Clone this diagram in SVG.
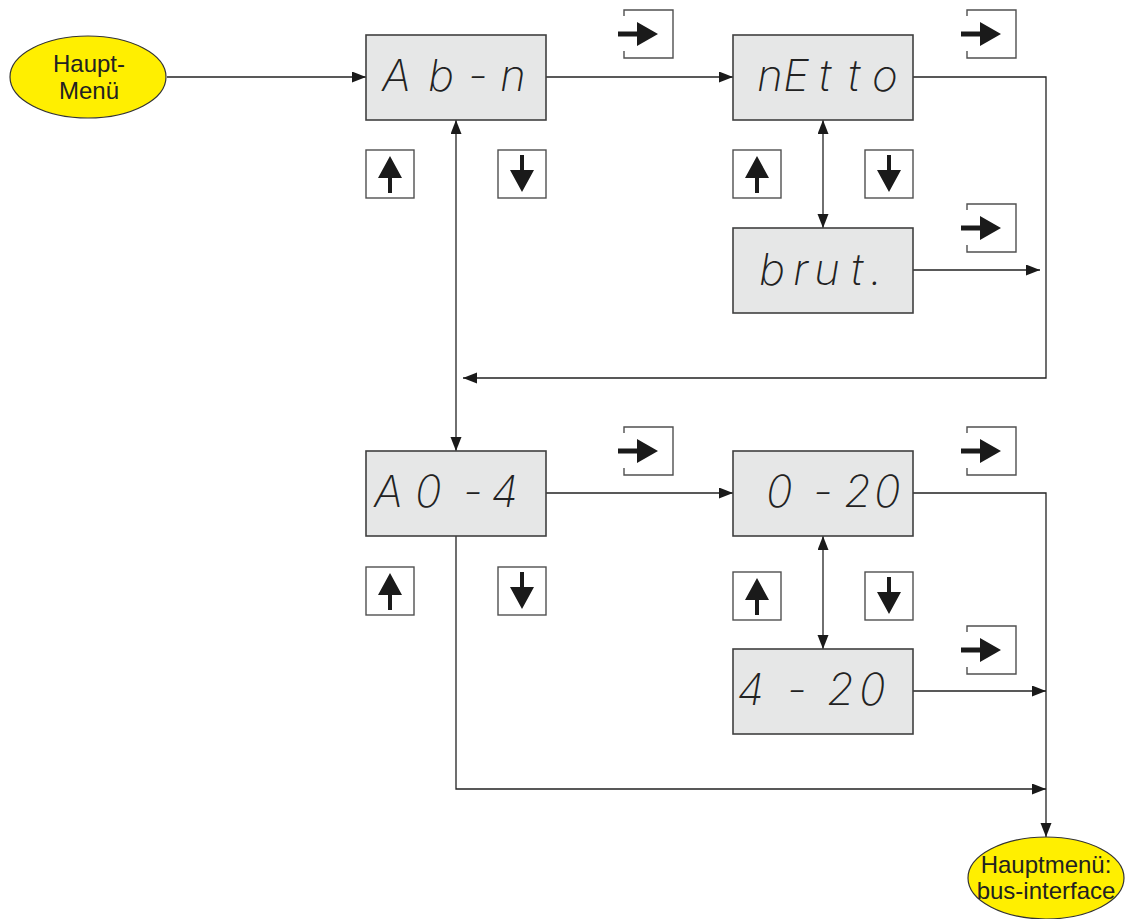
<svg xmlns="http://www.w3.org/2000/svg" width="1125" height="919" viewBox="0 0 1125 919">
<style>
.box{fill:#e6e7e7;stroke:#404040;stroke-width:1.6}
.key{fill:#fff;stroke:#505050;stroke-width:1.4}
.ell{fill:#ffef00;stroke:#333;stroke-width:1.2}
.lbl{font-family:"Liberation Sans",Arial,sans-serif;font-size:24px;fill:#222;text-anchor:middle}
.seg{font-family:Inter,"DejaVu Sans",sans-serif;font-style:italic;font-weight:200;font-size:44px;fill:#222}
.con{fill:none;stroke:#222;stroke-width:1.3}
.sym{fill:#1a1a1a}
</style>
<defs>
<marker id="ah" markerUnits="userSpaceOnUse" markerWidth="16" markerHeight="14" refX="14" refY="5.5" orient="auto-start-reverse">
<path d="M0,0 L14,5.5 L0,11 z" fill="#1a1a1a"/>
</marker>
<g id="up"><rect class="key" x="0" y="0" width="48" height="48"/><path class="sym" d="M24,6 L36,28 L26,28 L26,43 L22,43 L22,28 L12,28 z"/></g>
<g id="down"><rect class="key" x="0" y="0" width="48" height="48"/><path class="sym" d="M24,42 L36,20 L26,20 L26,5 L22,5 L22,20 L12,20 z"/></g>
<g id="enter"><path class="key" d="M0,6 L0,0 L49,0 L49,48 L0,48 L0,41" fill="none"/><path class="sym" d="M-6,21.5 L13,21.5 L13,12 L34,24 L13,36 L13,26.5 L-6,26.5 z"/></g>
</defs>

<g id="connectors">
<path class="con" d="M167,77 L366,77" marker-end="url(#ah)"/>
<path class="con" d="M546,77 L733,77" marker-end="url(#ah)"/>
<path class="con" d="M913,77 L1046,77 L1046,378 L463,378" marker-end="url(#ah)"/>
<path class="con" d="M456,120 L456,451" marker-start="url(#ah)" marker-end="url(#ah)"/>
<path class="con" d="M823,120 L823,228" marker-start="url(#ah)" marker-end="url(#ah)"/>
<path class="con" d="M913,270 L1040,270" marker-end="url(#ah)"/>
<path class="con" d="M546,493 L733,493" marker-end="url(#ah)"/>
<path class="con" d="M913,493 L1046,493 L1046,837" marker-end="url(#ah)"/>
<path class="con" d="M823,536 L823,649" marker-start="url(#ah)" marker-end="url(#ah)"/>
<path class="con" d="M913,691 L1046,691" marker-end="url(#ah)"/>
<path class="con" d="M456,536 L456,789 L1046,789" marker-end="url(#ah)"/>
</g>

<g id="haupt-menu">
<ellipse class="ell" cx="88" cy="77" rx="78" ry="41"/>
<text class="lbl" x="89" y="72">Haupt-</text>
<text class="lbl" x="89" y="99">Menü</text>
</g>

<g id="abn"><rect class="box" x="366" y="35" width="180" height="85"/>
<text class="seg" x="382 428 468 500" y="91">Ab-n</text></g>

<g id="netto"><rect class="box" x="733" y="35" width="180" height="85"/>
<text class="seg" x="757 783 819 848 872" y="91">nEtto</text></g>

<g id="brut"><rect class="box" x="733" y="228" width="180" height="85"/>
<text class="seg" x="759 793 814 851 870" y="285">brut.</text></g>

<g id="a04"><rect class="box" x="366" y="451" width="180" height="85"/>
<text class="seg" x="374 415 463 491" y="507">A0-4</text></g>

<g id="r020"><rect class="box" x="733" y="451" width="180" height="85"/>
<text class="seg" x="766 813 844 874" y="507">0-20</text></g>

<g id="r420"><rect class="box" x="733" y="649" width="180" height="85"/>
<text class="seg" x="737 787 827 859" y="705">4-20</text></g>

<g id="keys">
<use href="#up" x="366" y="150"/><use href="#down" x="498" y="150"/>
<use href="#up" x="733" y="150"/><use href="#down" x="865" y="150"/>
<use href="#up" x="366" y="567"/><use href="#down" x="498" y="567"/>
<use href="#up" x="733" y="572"/><use href="#down" x="865" y="572"/>
<use href="#enter" x="624" y="10"/><use href="#enter" x="967" y="10"/>
<use href="#enter" x="967" y="204"/><use href="#enter" x="624" y="427"/>
<use href="#enter" x="967" y="427"/><use href="#enter" x="967" y="626"/>
</g>

<g id="hauptmenu-bus">
<ellipse class="ell" cx="1046" cy="878" rx="78" ry="41"/>
<text class="lbl" x="1046" y="873">Hauptmenü:</text>
<text class="lbl" x="1046" y="899">bus-interface</text>
</g>
</svg>
